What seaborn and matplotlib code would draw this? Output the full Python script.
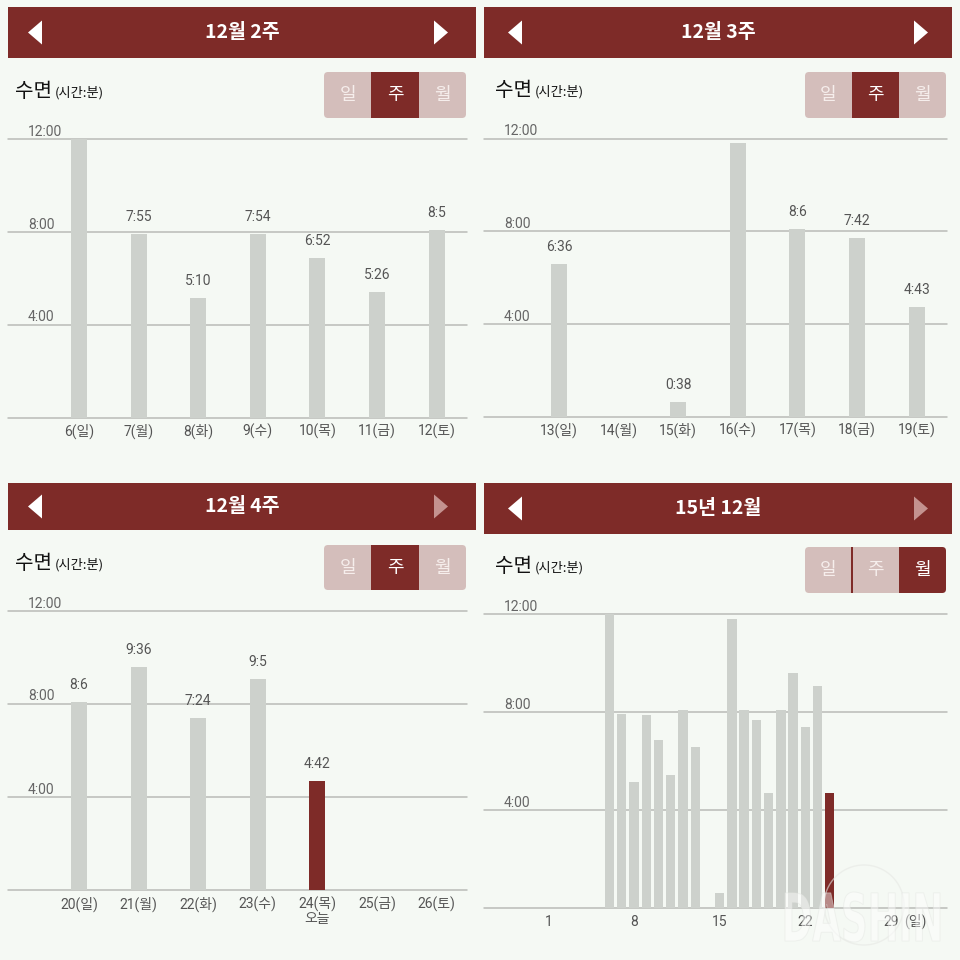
import numpy as np
import pandas as pd
import matplotlib
matplotlib.use("Agg")
import matplotlib.pyplot as plt
import seaborn as sns
from matplotlib.patches import Rectangle, Polygon, FancyBboxPatch, PathPatch, Circle
from matplotlib.textpath import TextPath
from matplotlib.font_manager import FontProperties
from matplotlib.transforms import Affine2D, IdentityTransform

# ---------------- data ----------------
week2_days = ["6(일)", "7(월)", "8(화)", "9(수)", "10(목)", "11(금)", "12(토)"]
week2_min = [720, 475, 310, 474, 412, 326, 485]
week2_labels = ["", "7:55", "5:10", "7:54", "6:52", "5:26", "8:5"]
week2_kind = ["past"] * 7

week3_days = ["13(일)", "14(월)", "15(화)", "16(수)", "17(목)", "18(금)", "19(토)"]
week3_min = [396, 0, 38, 709, 486, 462, 283]
week3_labels = ["6:36", "", "0:38", "", "8:6", "7:42", "4:43"]
week3_kind = ["past"] * 7

week4_days = ["20(일)", "21(월)", "22(화)", "23(수)", "24(목)\n오늘", "25(금)", "26(토)"]
week4_min = [486, 576, 444, 545, 282, 0, 0]
week4_labels = ["8:6", "9:36", "7:24", "9:5", "4:42", "", ""]
week4_kind = ["past", "past", "past", "past", "today", "past", "past"]

month_days = list(range(6, 25))
month_min = [720, 475, 310, 474, 412, 326, 485, 396, 0, 38, 709,
             486, 462, 283, 486, 576, 444, 545, 282]
month_kind = ["past"] * 18 + ["today"]
month_ticks = [1, 8, 15, 22, 29]

titles = ["12월 2주", "12월 3주", "12월 4주", "15년 12월"]
y_ticks = [4, 8, 12]
y_tick_labels = ["4:00", "8:00", "12:00"]
buttons = ["일", "주", "월"]

# ---------------- style ----------------
BG = "#f5f9f4"
RED = "#7e2b28"
GREY_BAR = "#cdd1cc"
GRID = "#b9bbb7"
TXT = "#555555"
BTN_OFF = "#d4bebb"
ARROW_OFF = "#c4928f"

sns.set_style("white")
plt.rcParams["font.family"] = ["Roboto", "Noto Sans CJK KR"]
plt.rcParams["axes.facecolor"] = "none"

W = H = 960
fig = plt.figure(figsize=(9.6, 9.6), dpi=100, facecolor=BG)


def fx(x):
    return x / W


def fy(y):
    return 1 - y / H


def add_rect(x0, y0, x1, y1, color, z=1):
    fig.add_artist(Rectangle((fx(x0), fy(y1)), (x1 - x0) / W, (y1 - y0) / H,
                             transform=fig.transFigure, facecolor=color,
                             edgecolor="none", zorder=z))


def header(x0, y0, x1, y1, title, right_on=True, left_x=None, right_x=None):
    add_rect(x0, y0, x1, y1, RED)
    yc = (y0 + y1) / 2
    xc = (x0 + x1) / 2
    fig.text(fx(xc), fy(yc), title, color="white", fontsize=14, fontweight="bold",
             ha="center", va="center", family=["Noto Sans CJK KR"], zorder=3)
    lx = left_x
    fig.add_artist(Polygon([(fx(lx + 14), fy(yc - 12)), (fx(lx + 14), fy(yc + 12)),
                            (fx(lx), fy(yc))], closed=True, transform=fig.transFigure,
                           facecolor="white", edgecolor="none", zorder=3))
    rx = right_x
    fig.add_artist(Polygon([(fx(rx - 14), fy(yc - 12)), (fx(rx - 14), fy(yc + 12)),
                            (fx(rx), fy(yc))], closed=True, transform=fig.transFigure,
                           facecolor="white" if right_on else ARROW_OFF,
                           edgecolor="none", zorder=3))


def subtitle(x, ybase):
    fig.text(fx(x), fy(ybase), "수면", fontsize=14.5, color="#111111", ha="left",
             va="baseline", family=["Noto Sans CJK KR"])
    fig.text(fx(x + 40), fy(ybase), "(시간:분)", fontsize=9.5, color="#111111",
             ha="left", va="baseline", family=["Noto Sans CJK KR"])


def button_group(x0, y0, x1, y1, active, sep=False):
    w = (x1 - x0) / 3
    r = 4
    fig.add_artist(FancyBboxPatch((fx(x0), fy(y1)), (x1 - x0) / W, (y1 - y0) / H,
                                  boxstyle=f"round,pad=0,rounding_size={r / W}",
                                  transform=fig.transFigure, facecolor=BTN_OFF,
                                  edgecolor="none", zorder=1))
    ax0 = x0 + active * w
    if active == 2:
        fig.add_artist(FancyBboxPatch((fx(ax0), fy(y1)), w / W, (y1 - y0) / H,
                                      boxstyle=f"round,pad=0,rounding_size={r / W}",
                                      transform=fig.transFigure, facecolor=RED,
                                      edgecolor="none", zorder=2))
        add_rect(ax0, y0, ax0 + w / 2, y1, RED, z=2)
    else:
        add_rect(ax0, y0, ax0 + w, y1, RED, z=2)
    if sep:
        add_rect(x0 + w - 0.6, y0, x0 + w + 0.6, y1, RED, z=2)
    for i, b in enumerate(buttons):
        fig.text(fx(x0 + w * (i + 0.5)), fy((y0 + y1) / 2), b, fontsize=13,
                 color="white" if i == active else "#f6eeec", ha="center",
                 va="center", family=["Noto Sans CJK KR"], zorder=3)


def make_axes(left, right, top, base):
    return fig.add_axes([fx(left), fy(base), (right - left) / W, (base - top) / H])


def decorate(ax):
    for s in ax.spines.values():
        s.set_visible(False)
    ax.set_ylim(0, 12)
    ax.set_yticks([])
    ax.set_xlabel("")
    ax.set_ylabel("")
    for yv in [0] + y_ticks:
        ax.axhline(yv, color=GRID, lw=1.1, zorder=0.5, clip_on=False)
    for yv, lab in zip(y_ticks, y_tick_labels):
        ax.annotate(lab, xy=(0, yv), xycoords=("axes fraction", "data"),
                    xytext=(20 * 0.72, 7.5 * 0.72), textcoords="offset points",
                    ha="left", va="center", color="#666666", fontsize=10,
                    annotation_clip=False)
    ax.tick_params(axis="x", length=0, pad=4.5, labelsize=10, labelcolor=TXT)


def week_chart(left, right, top, base, days, mins, labels, kind, first_px, step_px):
    ax = make_axes(left, right, top, base)
    df = pd.DataFrame({"day": days, "hours": np.array(mins) / 60.0, "kind": kind})
    sns.barplot(data=df, x="day", y="hours", hue="kind", order=days,
                palette={"past": GREY_BAR, "today": RED}, dodge=False,
                width=0.27, saturation=1, legend=False, errorbar=None,
                linewidth=0, ax=ax, zorder=2)
    ax.set_xlim((left - first_px) / step_px, (right - first_px) / step_px)
    decorate(ax)
    for i, (v, lab) in enumerate(zip(df["hours"], labels)):
        if lab:
            ax.annotate(lab, xy=(i, v), xytext=(0, 17 * 0.72),
                        textcoords="offset points", ha="center", va="center",
                        fontsize=10, color=TXT, annotation_clip=False)
    for t in ax.get_xticklabels():
        t.set_linespacing(1.05)
    return ax


# ---------------- panel 1 ----------------
header(8, 7, 476, 58, titles[0], True, 28, 448)
subtitle(15, 97)
button_group(324, 72, 466, 118, 1)
week_chart(8, 467, 139.3, 417.7, week2_days, week2_min, week2_labels, week2_kind, 79, 59.6)

# ---------------- panel 2 ----------------
header(484, 7, 952, 58, titles[1], True, 508, 928)
subtitle(495, 96)
button_group(805, 72, 946, 118, 1)
week_chart(484, 947, 138.7, 416.7, week3_days, week3_min, week3_labels, week3_kind, 559, 59.6)

# ---------------- panel 3 ----------------
header(8, 483, 476, 530, titles[2], False, 28, 448)
subtitle(15, 569)
button_group(324, 545, 466, 590, 1)
week_chart(8, 467, 611, 890, week4_days, week4_min, week4_labels, week4_kind, 79, 59.6)

# ---------------- panel 4 ----------------
header(484, 483, 952, 534, titles[3], False, 508, 928)
subtitle(495, 572)
button_group(805, 547, 946, 593, 2, sep=True)
ax4 = make_axes(484, 947, 614.3, 908.3)
dfm = pd.DataFrame({"day": month_days, "hours": np.array(month_min) / 60.0,
                    "kind": month_kind})
sns.barplot(data=dfm, x="day", y="hours", hue="kind", native_scale=True,
            palette={"past": GREY_BAR, "today": RED}, dodge=False, width=0.76,
            saturation=1, legend=False, errorbar=None, linewidth=0, ax=ax4, zorder=2)
ax4.set_xlim(1 + (484 - 548.3) / 12.24, 1 + (947 - 548.3) / 12.24)
decorate(ax4)
ax4.set_xticks(month_ticks)
ax4.set_xticklabels([str(d) for d in month_ticks])
ax4.tick_params(axis="x", pad=4.5)
ax4.annotate("(일)", xy=(31, 0), xycoords="data", xytext=(0, -13.4 * 0.72),
             textcoords="offset points", ha="center", va="center", fontsize=10,
             color=TXT, annotation_clip=False)

# faint watermark
wm_prop = FontProperties(family="DejaVu Sans", weight="bold")
tp = TextPath((0, 0), "DASHIN", size=50, prop=wm_prop)
ext = tp.get_extents()
sx = 155 / ext.width
sy = 50 / ext.height
tr = Affine2D().translate(-ext.x0, -ext.y0).scale(sx, sy).translate(785, 960 - 942)
fig.add_artist(PathPatch(tp, transform=tr + IdentityTransform(), facecolor="white",
                         edgecolor="#e3e5e1", lw=0.7, alpha=0.45, zorder=10))
fig.add_artist(Circle((fx(864), fy(905)), 40 / W, transform=fig.transFigure,
                      facecolor="none", edgecolor="#e6e8e4", lw=1.0, alpha=0.6, zorder=9))

fig.savefig("out.png", dpi=100, facecolor=BG)
